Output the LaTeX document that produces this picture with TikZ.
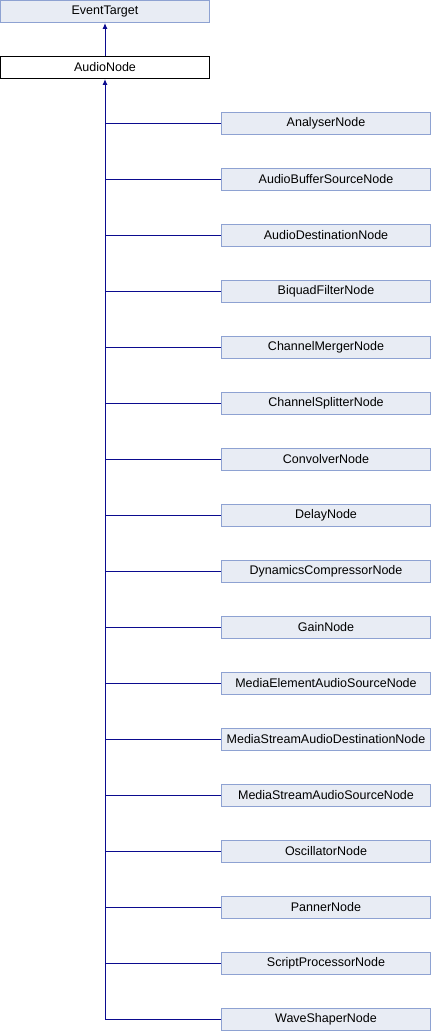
\documentclass[tikz,border=0pt]{standalone}
\usepackage{fontspec}
\setmainfont{Liberation Sans}
\usetikzlibrary{arrows.meta}
\definecolor{boxfill}{HTML}{E8ECF4}
\definecolor{boxline}{HTML}{8EA2D2}
\definecolor{edgeblue}{HTML}{0B0B8F}
\tikzset{
  cls/.style={draw=boxline,fill=boxfill,line width=1pt,minimum width=209pt,
    minimum height=22pt,inner sep=0pt,font=\fontsize{12.5}{14}\selectfont},
  cur/.style={cls,draw=black,fill=white},
  edge/.style={draw=edgeblue,line width=1pt},
  inh/.style={edge,-{Latex[length=6pt,width=5pt]}}
}
\begin{document}
\begin{tikzpicture}[x=1pt,y=-1pt]
    \useasboundingbox (0,0) rectangle (432,1032);
    \node[cls] (EventTarget) at (105,11.5) {EventTarget};
    \node[cur] (AudioNode) at (105,67.5) {AudioNode};
    \draw[inh] (AudioNode) -- (EventTarget);
    % derived classes
    \node[cls] (AnalyserNode) at (326,123.5) {AnalyserNode};
    \node[cls] (AudioBufferSourceNode) at (326,179.5) {AudioBufferSourceNode};
    \node[cls] (AudioDestinationNode) at (326,235.5) {AudioDestinationNode};
    \node[cls] (BiquadFilterNode) at (326,291.5) {BiquadFilterNode};
    \node[cls] (ChannelMergerNode) at (326,347.5) {ChannelMergerNode};
    \node[cls] (ChannelSplitterNode) at (326,403.5) {ChannelSplitterNode};
    \node[cls] (ConvolverNode) at (326,459.5) {ConvolverNode};
    \node[cls] (DelayNode) at (326,515.5) {DelayNode};
    \node[cls] (DynamicsCompressorNode) at (326,571.5) {DynamicsCompressorNode};
    \node[cls] (GainNode) at (326,627.5) {GainNode};
    \node[cls] (MediaElementAudioSourceNode) at (326,683.5) {MediaElementAudioSourceNode};
    \node[cls] (MediaStreamAudioDestinationNode) at (326,739.5) {MediaStreamAudioDestinationNode};
    \node[cls] (MediaStreamAudioSourceNode) at (326,795.5) {MediaStreamAudioSourceNode};
    \node[cls] (OscillatorNode) at (326,851.5) {OscillatorNode};
    \node[cls] (PannerNode) at (326,907.5) {PannerNode};
    \node[cls] (ScriptProcessorNode) at (326,963.5) {ScriptProcessorNode};
    \node[cls] (WaveShaperNode) at (326,1019.5) {WaveShaperNode};
    % inheritance edges
    \draw[inh] (WaveShaperNode.west) -| (AudioNode.south);
    \draw[edge] (AnalyserNode.west) -- (AnalyserNode.west -| AudioNode.south);
    \draw[edge] (AudioBufferSourceNode.west) -- (AudioBufferSourceNode.west -| AudioNode.south);
    \draw[edge] (AudioDestinationNode.west) -- (AudioDestinationNode.west -| AudioNode.south);
    \draw[edge] (BiquadFilterNode.west) -- (BiquadFilterNode.west -| AudioNode.south);
    \draw[edge] (ChannelMergerNode.west) -- (ChannelMergerNode.west -| AudioNode.south);
    \draw[edge] (ChannelSplitterNode.west) -- (ChannelSplitterNode.west -| AudioNode.south);
    \draw[edge] (ConvolverNode.west) -- (ConvolverNode.west -| AudioNode.south);
    \draw[edge] (DelayNode.west) -- (DelayNode.west -| AudioNode.south);
    \draw[edge] (DynamicsCompressorNode.west) -- (DynamicsCompressorNode.west -| AudioNode.south);
    \draw[edge] (GainNode.west) -- (GainNode.west -| AudioNode.south);
    \draw[edge] (MediaElementAudioSourceNode.west) -- (MediaElementAudioSourceNode.west -| AudioNode.south);
    \draw[edge] (MediaStreamAudioDestinationNode.west) -- (MediaStreamAudioDestinationNode.west -| AudioNode.south);
    \draw[edge] (MediaStreamAudioSourceNode.west) -- (MediaStreamAudioSourceNode.west -| AudioNode.south);
    \draw[edge] (OscillatorNode.west) -- (OscillatorNode.west -| AudioNode.south);
    \draw[edge] (PannerNode.west) -- (PannerNode.west -| AudioNode.south);
    \draw[edge] (ScriptProcessorNode.west) -- (ScriptProcessorNode.west -| AudioNode.south);
\end{tikzpicture}
\end{document}
